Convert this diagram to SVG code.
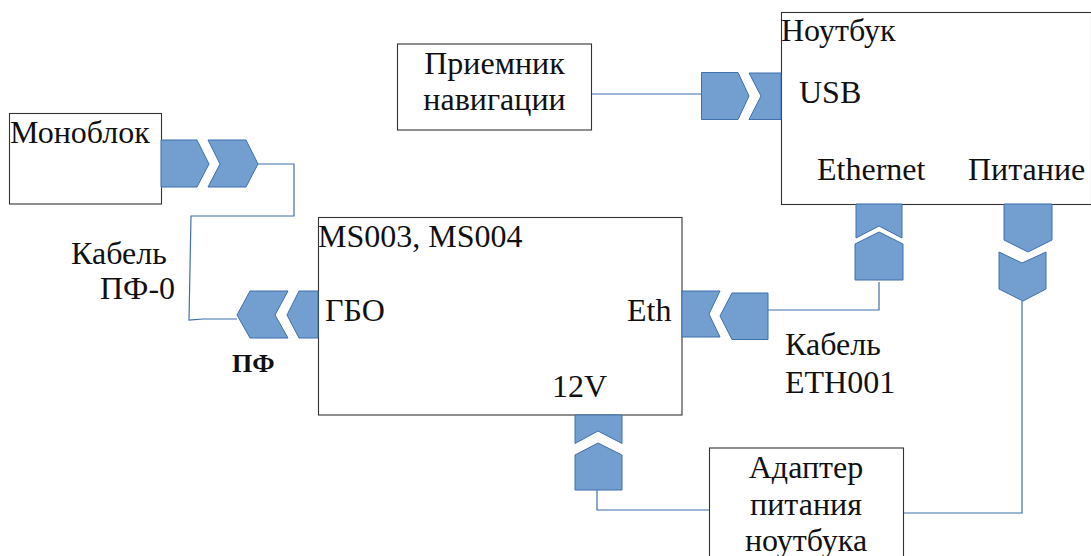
<svg xmlns="http://www.w3.org/2000/svg" width="1091" height="556" viewBox="0 0 1091 556">
<style>
.box{fill:#fff;stroke:#333;stroke-width:1.1}
.chev{fill:#729fcf;stroke:#3f6fae;stroke-width:1}
.wire{fill:none;stroke:#3f6fae;stroke-width:1.2}
text{font-family:"Liberation Serif","Times New Roman",serif;font-size:32px;fill:#111}
.m{text-anchor:middle}
.b{font-size:26px;font-weight:bold}
</style>
<rect width="1091" height="556" fill="#fff"/>
<g id="connectors">
<path class="wire" d="M258 164H294V216H191L189 320L203 319H237"/>
<path class="wire" d="M591 94H701"/>
<path class="wire" d="M768 310H879V282"/>
<path class="wire" d="M1022 301V513H904"/>
<path class="wire" d="M597 490V510H709"/>
</g>
<g id="monoblock">
<rect class="box" x="9.5" y="113.5" width="152" height="90.5"/>
<text x="10" y="143">Моноблок</text>
<polygon class="chev" points="161,140 197,140 209,164 197,187 161,187"/>
<polygon class="chev" points="208,140 246,140 258,164 246,187 208,187 220,164"/>
</g>
<g id="cable-label">
<text x="71" y="264">Кабель</text>
<text x="100" y="299">ПФ-0</text>
</g>
<g id="pf-label"><text class="b" x="232" y="372">ПФ</text></g>
<g id="ms">
<rect class="box" x="318.5" y="217.5" width="363.5" height="197.5"/>
<text x="318" y="247">MS003, MS004</text>
<text x="325" y="321">ГБО</text>
<text x="627" y="321">Eth</text>
<text x="552" y="397">12V</text>
<polygon class="chev" points="237,315 250,291 288,291 275,315 288,338 250,338"/>
<polygon class="chev" points="318,291 299,291 287,315 299,338 318,338"/>
<polygon class="chev" points="682,291 720,291 709,314 720,337 682,337"/>
<polygon class="chev" points="720,316 732,293 768,293 768,339.5 732,339.5"/>
<polygon class="chev" points="575,415 622,415 622,443.5 598,431 575,443.5"/>
<polygon class="chev" points="575,455 598,443 622,455 622,490 575,490"/>
</g>
<g id="eth-label">
<text x="785" y="355">Кабель</text>
<text x="785" y="393">ETH001</text>
</g>
<g id="receiver">
<rect class="box" x="397.5" y="44" width="194" height="86"/>
<text class="m" x="494.5" y="74">Приемник</text>
<text class="m" x="494.5" y="110">навигации</text>
</g>
<g id="notebook">
<rect class="box" x="781.5" y="12.5" width="310" height="192"/>
<text x="781" y="41">Ноутбук</text>
<text x="799" y="103">USB</text>
<text x="817" y="180">Ethernet</text>
<text x="968" y="180">Питание</text>
<polygon class="chev" points="701.5,72.5 738,72.5 749,96 738,119.5 701.5,119.5"/>
<polygon class="chev" points="749,73 781,73 781,119.5 749,119.5 761,96"/>
<polygon class="chev" points="856,204 902,204 902,238 879,226 856,238"/>
<polygon class="chev" points="855,244 879,232 903,244 903,280 855,280"/>
<polygon class="chev" points="1004,204 1052,204 1052,240 1028,252 1004,240"/>
<polygon class="chev" points="999,252 1022,263 1046,252 1046,289 1023,301 999,289"/>
</g>
<g id="adapter">
<rect class="box" x="709.5" y="448" width="194" height="120"/>
<text class="m" x="806" y="478">Адаптер</text>
<text class="m" x="806" y="515">питания</text>
<text class="m" x="806" y="551">ноутбука</text>
</g>
</svg>
